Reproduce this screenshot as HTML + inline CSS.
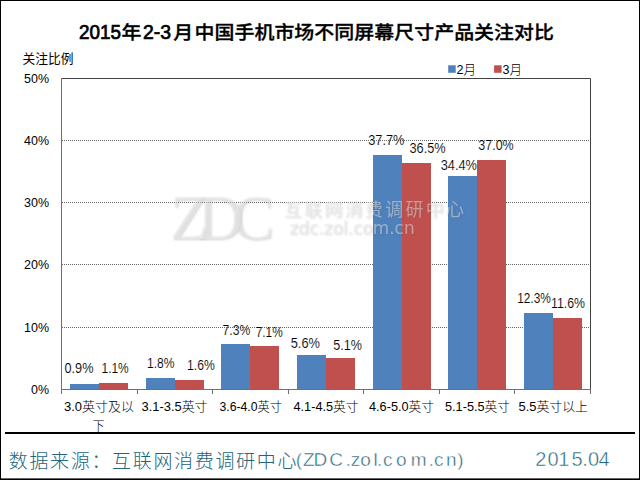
<!DOCTYPE html>
<html lang="zh-CN"><head><meta charset="utf-8"><title>2015年2-3月中国手机市场不同屏幕尺寸产品关注对比</title>
<style>
html,body{margin:0;padding:0;background:#fff;width:640px;height:480px;overflow:hidden}
svg{display:block}
text{font-family:"Liberation Sans","Noto Sans CJK SC",sans-serif;fill:#111}
.ttl{font-family:"Liberation Sans","Noto Sans CJK SC",sans-serif;font-weight:500;font-size:18.5px;fill:#000;stroke:#000;stroke-width:0.3px}
.ttn{font-family:"Liberation Sans",sans-serif;font-weight:normal;font-size:20px;fill:#000;stroke:#000;stroke-width:0.7px}
.ax{font-size:13px;font-weight:300;fill:#000}
.yl{font-size:13px;fill:#000}
.yt{font-size:13px;fill:#000}
.dl{font-size:14px;fill:#000;stroke:#fff;stroke-width:0.12px}
.ft{font-size:19px;font-weight:300;fill:#22657A}
.fl{font-size:19px;fill:#22657A;stroke:#fff;stroke-width:0.45px}
.fd{font-size:20px;fill:#22657A;stroke:#fff;stroke-width:0.45px}
</style></head><body>
<svg width="640" height="480" viewBox="0 0 640 480">
<rect x="0" y="0" width="640" height="480" fill="#fff"/>
<line x1="62.0" y1="327.5" x2="590.0" y2="327.5" stroke="#666" stroke-width="1" stroke-dasharray="1,1"/>
<line x1="62.0" y1="264.5" x2="590.0" y2="264.5" stroke="#666" stroke-width="1" stroke-dasharray="1,1"/>
<line x1="62.0" y1="202.5" x2="590.0" y2="202.5" stroke="#666" stroke-width="1" stroke-dasharray="1,1"/>
<line x1="62.0" y1="140.5" x2="590.0" y2="140.5" stroke="#666" stroke-width="1" stroke-dasharray="1,1"/>
<rect x="70" y="384" width="29" height="5.5" fill="#4F81BD"/>
<rect x="99" y="383" width="29" height="6.5" fill="#C0504D"/>
<rect x="146" y="378" width="29" height="11.5" fill="#4F81BD"/>
<rect x="175" y="380" width="29" height="9.5" fill="#C0504D"/>
<rect x="221" y="344" width="29" height="45.5" fill="#4F81BD"/>
<rect x="250" y="346" width="29" height="43.5" fill="#C0504D"/>
<rect x="297" y="355" width="29" height="34.5" fill="#4F81BD"/>
<rect x="326" y="358" width="29" height="31.5" fill="#C0504D"/>
<rect x="373" y="155" width="29" height="234.5" fill="#4F81BD"/>
<rect x="402" y="163" width="29" height="226.5" fill="#C0504D"/>
<rect x="448" y="176" width="29" height="213.5" fill="#4F81BD"/>
<rect x="477" y="160" width="29" height="229.5" fill="#C0504D"/>
<rect x="524" y="313" width="29" height="76.5" fill="#4F81BD"/>
<rect x="553" y="318" width="29" height="71.5" fill="#C0504D"/>
<path d="M61.5 78.5 H590.5 V389.5" fill="none" stroke="#404040" stroke-width="1"/>
<path d="M61.5 78.5 V394.0 M61.5 389.5 H590.5" fill="none" stroke="#707070" stroke-width="1"/>
<line x1="137.5" y1="389.5" x2="137.5" y2="394.0" stroke="#707070" stroke-width="1"/>
<line x1="212.5" y1="389.5" x2="212.5" y2="394.0" stroke="#707070" stroke-width="1"/>
<line x1="288.5" y1="389.5" x2="288.5" y2="394.0" stroke="#707070" stroke-width="1"/>
<line x1="363.5" y1="389.5" x2="363.5" y2="394.0" stroke="#707070" stroke-width="1"/>
<line x1="439.5" y1="389.5" x2="439.5" y2="394.0" stroke="#707070" stroke-width="1"/>
<line x1="514.5" y1="389.5" x2="514.5" y2="394.0" stroke="#707070" stroke-width="1"/>
<line x1="590.5" y1="389.5" x2="590.5" y2="394.0" stroke="#707070" stroke-width="1"/>
<g style="filter:drop-shadow(1.2px 1.2px 1px rgba(90,90,90,0.55))" fill="#ededed" fill-opacity="0.45">
<text x="0" y="0" transform="translate(170,239) scale(1.0,1)" style="font-family:'Liberation Serif',serif;font-size:63px;letter-spacing:-11px;fill:inherit">ZDC</text>
<text x="283.6" y="215.6" style="font-size:18px;font-weight:400;fill:inherit" textLength="180.5" lengthAdjust="spacing">互联网消费调研中心</text>
<text x="289.2" y="234.4" style="font-family:'DejaVu Sans',sans-serif;font-size:17px;fill:inherit" textLength="125.5" lengthAdjust="spacingAndGlyphs">zdc.zol.com.cn</text>
</g>
<text y="38.5" class="ttl"><tspan x="79" class="ttn" textLength="42" lengthAdjust="spacingAndGlyphs">2015</tspan><tspan x="121.5" textLength="20" lengthAdjust="spacingAndGlyphs">年</tspan><tspan x="143" class="ttn" textLength="28" lengthAdjust="spacingAndGlyphs">2-3</tspan><tspan x="173.3" textLength="20" lengthAdjust="spacingAndGlyphs">月</tspan><tspan x="194.5" textLength="359.5" lengthAdjust="spacingAndGlyphs">中国手机市场不同屏幕尺寸产品关注对比</tspan></text>
<text x="22.5" y="63.3" class="yt" textLength="51" lengthAdjust="spacingAndGlyphs">关注比例</text>
<text x="49" y="394" class="yl" textLength="18" lengthAdjust="spacingAndGlyphs" text-anchor="end">0%</text>
<text x="49" y="332" class="yl" textLength="25" lengthAdjust="spacingAndGlyphs" text-anchor="end">10%</text>
<text x="49" y="269" class="yl" textLength="25" lengthAdjust="spacingAndGlyphs" text-anchor="end">20%</text>
<text x="49" y="207" class="yl" textLength="25" lengthAdjust="spacingAndGlyphs" text-anchor="end">30%</text>
<text x="49" y="145" class="yl" textLength="25" lengthAdjust="spacingAndGlyphs" text-anchor="end">40%</text>
<text x="49" y="83" class="yl" textLength="25" lengthAdjust="spacingAndGlyphs" text-anchor="end">50%</text>
<rect x="448.2" y="65.3" width="7.5" height="7.5" fill="#4F81BD"/>
<rect x="494.1" y="65.3" width="7.5" height="7.5" fill="#C0504D"/>
<text x="456.5" y="74" class="ax" textLength="19.5" lengthAdjust="spacingAndGlyphs">2月</text>
<text x="502.5" y="74" class="ax" textLength="19.5" lengthAdjust="spacingAndGlyphs">3月</text>
<text x="64" y="410.7" class="ax" textLength="70" lengthAdjust="spacingAndGlyphs">3.0英寸及以</text>
<text x="141.5" y="410.7" class="ax" textLength="66.0" lengthAdjust="spacingAndGlyphs">3.1-3.5英寸</text>
<text x="219.5" y="410.7" class="ax" textLength="62.5" lengthAdjust="spacingAndGlyphs">3.6-4.0英寸</text>
<text x="293.5" y="410.7" class="ax" textLength="65.0" lengthAdjust="spacingAndGlyphs">4.1-4.5英寸</text>
<text x="369" y="410.7" class="ax" textLength="65" lengthAdjust="spacingAndGlyphs">4.6-5.0英寸</text>
<text x="445" y="410.7" class="ax" textLength="65" lengthAdjust="spacingAndGlyphs">5.1-5.5英寸</text>
<text x="518.5" y="410.7" class="ax" textLength="69.5" lengthAdjust="spacingAndGlyphs">5.5英寸以上</text>
<text x="92.5" y="429.5" class="ax" textLength="12" lengthAdjust="spacingAndGlyphs">下</text>
<text x="64.5" y="373" class="dl" textLength="28.95" lengthAdjust="spacingAndGlyphs">0.9%</text>
<text x="101.5" y="373" class="dl" textLength="27.2" lengthAdjust="spacingAndGlyphs">1.1%</text>
<text x="147.0" y="368" class="dl" textLength="27.45" lengthAdjust="spacingAndGlyphs">1.8%</text>
<text x="187.0" y="370" class="dl" textLength="27.7" lengthAdjust="spacingAndGlyphs">1.6%</text>
<text x="222.5" y="335" class="dl" textLength="27.7" lengthAdjust="spacingAndGlyphs">7.3%</text>
<text x="255.75" y="337" class="dl" textLength="26.95" lengthAdjust="spacingAndGlyphs">7.1%</text>
<text x="290.75" y="347.5" class="dl" textLength="29.2" lengthAdjust="spacingAndGlyphs">5.6%</text>
<text x="333.25" y="349.5" class="dl" textLength="28.7" lengthAdjust="spacingAndGlyphs">5.1%</text>
<text x="368.25" y="144.5" class="dl" textLength="36.2" lengthAdjust="spacingAndGlyphs">37.7%</text>
<text x="409.5" y="152.5" class="dl" textLength="36.2" lengthAdjust="spacingAndGlyphs">36.5%</text>
<text x="440.75" y="170" class="dl" textLength="36.2" lengthAdjust="spacingAndGlyphs">34.4%</text>
<text x="478.25" y="149.5" class="dl" textLength="35.45" lengthAdjust="spacingAndGlyphs">37.0%</text>
<text x="517.2" y="302.5" class="dl" textLength="33.6" lengthAdjust="spacingAndGlyphs">12.3%</text>
<text x="551.0" y="307.5" class="dl" textLength="34.0" lengthAdjust="spacingAndGlyphs">11.6%</text>
<rect x="5" y="432" width="630" height="2" fill="#000"/>
<text x="8.8" y="467.6" class="ft" textLength="287.6" lengthAdjust="spacing">数据来源：互联网消费调研中心</text>
<text x="295.8 303.1 313.4 329.3 345.4 350.85 360.3 373.4 377.0 383.05 395.9 410.7 428.6 434.1 446.1 457.2" y="465.5" class="fl">(ZDC.zol.com.cn)</text>
<text x="535.3 547.45 558.2 571.5 582.3 587.95 598.4" y="466" class="fd">2015.04</text>
<rect x="0.5" y="0.5" width="639" height="479" fill="none" stroke="#000" stroke-width="1"/>
<rect x="0" y="478.4" width="640" height="1.6" fill="#000"/>
</svg></body></html>
